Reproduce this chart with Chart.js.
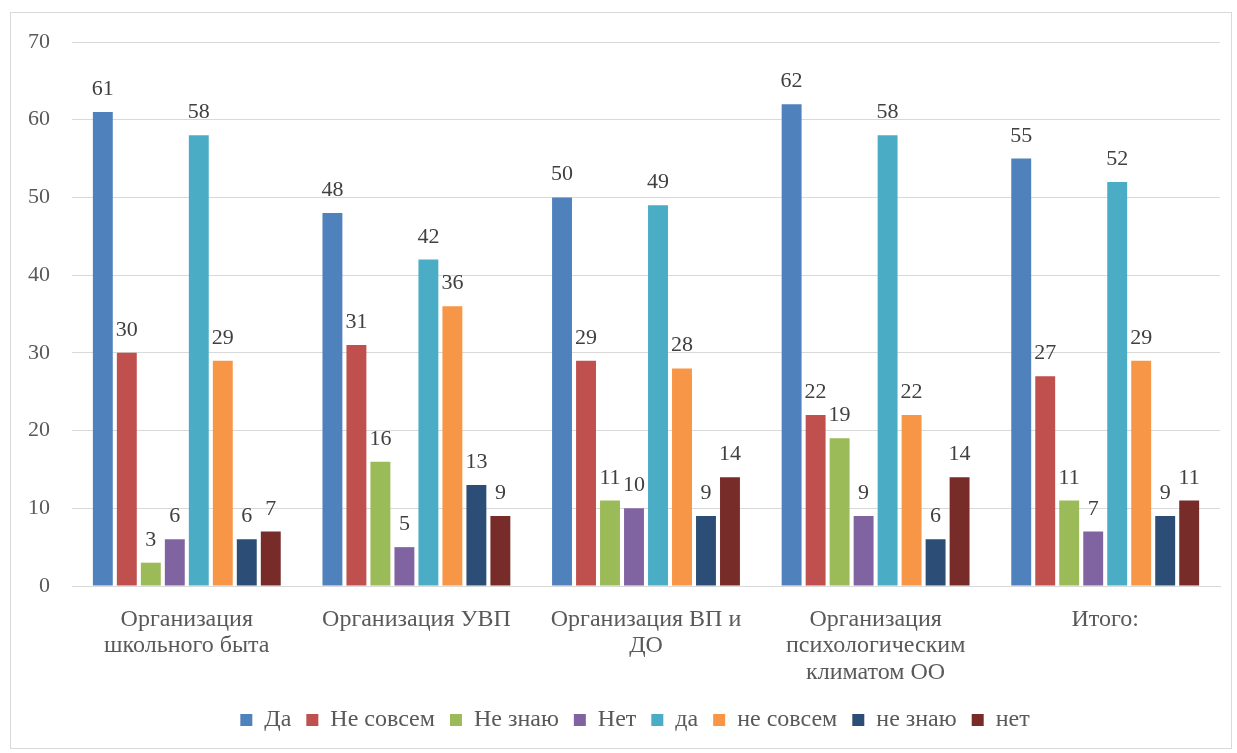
<!DOCTYPE html>
<html><head><meta charset="utf-8">
<script src="https://cdn.jsdelivr.net/npm/chart.js@4/dist/chart.umd.min.js"></script>
<style>
html,body{margin:0;padding:0;background:#fff;}
#box{position:absolute;left:10px;top:12px;width:1222px;height:737px;border:1px solid #d9d9d9;box-sizing:border-box;}
#c{display:block;}
</style></head><body>
<div id="box"><canvas id="c" width="1220" height="735"></canvas></div>
<script>
const categories = [["Организация","школьного быта"],"Организация УВП",["Организация ВП и","ДО"],["Организация","психологическим","климатом ОО"],"Итого:"];
const seriesNames = ["Да","Не совсем","Не знаю","Нет","да","не совсем","не знаю","нет"];
const sDa = [61,48,50,62,55];
const sNeSovsem = [30,31,29,22,27];
const sNeZnayu = [3,16,11,19,11];
const sNet = [6,5,10,9,7];
const s2Da = [58,42,49,58,52];
const s2NeSovsem = [29,36,28,22,29];
const s2NeZnayu = [6,13,9,6,9];
const s2Net = [7,9,14,14,11];
const yTicks = [0,10,20,30,40,50,60,70];
const colors = ["#4F81BD","#C0504D","#9BBB59","#8064A2","#4BACC6","#F79646","#2C4D75","#772C2A"];
const all = [sDa,sNeSovsem,sNeZnayu,sNet,s2Da,s2NeSovsem,s2NeZnayu,s2Net];
const FONT = "'Liberation Serif','Times New Roman',serif";

const labelPlugin = {
  id:'lbl',
  afterLayout(chart){
    const lg = chart.legend;
    if (lg) { lg.left += 11; lg.right += 11; if (lg.adjustHitBoxes) lg.adjustHitBoxes(); }
  },
  afterDatasetsDraw(chart){
    const ctx = chart.ctx;
    ctx.save();
    ctx.font = "22px " + FONT;
    ctx.fillStyle = "#404040";
    ctx.textAlign = "center";
    ctx.textBaseline = "alphabetic";
    chart.data.datasets.forEach((ds,i)=>{
      const meta = chart.getDatasetMeta(i);
      meta.data.forEach((el,j)=>{
        ctx.fillText(String(ds.data[j]), el.x, el.y - 17);
      });
    });
    ctx.restore();
  }
};

new Chart(document.getElementById('c'), {
  type:'bar',
  data:{
    labels: categories,
    datasets: all.map((d,i)=>({label:seriesNames[i], data:d, backgroundColor:colors[i], borderWidth:0, categoryPercentage:0.836, barPercentage:0.83}))
  },
  options:{
    responsive:false,
    animation:false,
    layout:{autoPadding:false, padding:{left:17,right:11,top:29,bottom:6}},
    plugins:{
      legend:{position:'bottom', labels:{font:{family:FONT,size:24}, color:'#595959', boxWidth:12, boxHeight:12, padding:15}},
      tooltip:{enabled:false}
    },
    scales:{
      x:{
        grid:{display:false, drawTicks:false},
        border:{display:true, color:'#d9d9d9', width:1},
        ticks:{font:{family:FONT,size:24,lineHeight:1.11}, color:'#595959', maxRotation:0, autoSkip:false, padding:20},
        afterFit(axis){ axis.height = 107; axis.paddingLeft = 0; axis.paddingRight = 0; }
      },
      y:{
        min:0,max:70,
        afterBuildTicks(axis){ axis.ticks = yTicks.map(v=>({value:v})); },
        grid:{color:'#d9d9d9', drawTicks:false},
        border:{display:false},
        ticks:{font:{family:FONT,size:22}, color:'#595959', padding:22},
        afterFit(axis){ axis.width = 44; axis.paddingTop = 0; axis.paddingBottom = 0; }
      }
    }
  },
  plugins:[labelPlugin]
});
</script>
</body></html>
